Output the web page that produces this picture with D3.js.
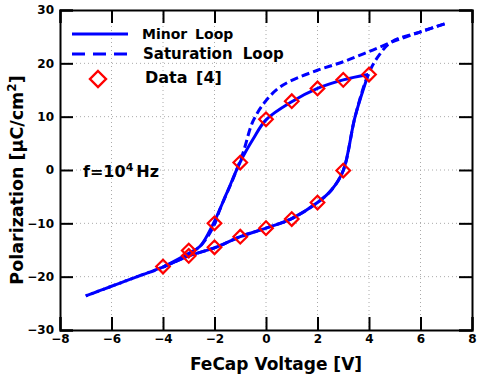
<!DOCTYPE html>
<meta charset="utf-8">
<html>
<head>
<style>
  body { margin: 0; background: #fff; }
  text { font-family: "DejaVu Sans", Verdana, sans-serif; font-weight: bold; fill: #000; }
  .grid line { stroke: #aaa; stroke-width: 1; stroke-dasharray: 1,3; }
</style>
<script src="https://cdn.jsdelivr.net/npm/d3@7"></script>
</head>
<body>
<div id="chart"></div>
<script>
// minor loop, rising branch (V, P)
var minorUpV = [-4, -3, -2, -1, 0, 1, 2, 2.55, 3, 3.46, 3.97];
var minorUpP = [-18.2, -16.1, -14.6, -12.5, -10.9, -9.1, -6.1, -3.7, -0.1, 10, 17.9];
// minor loop, falling branch
var minorDnV = [-4, -3, -2.56, -2.05, -1.53, -1, -0.5, 0, 1, 2, 3, 3.97];
var minorDnP = [-18.2, -15.6, -14.3, -10.1, -4.4, 1.5, 5.8, 9.4, 12.8, 15.3, 16.9, 17.9];
// saturation loop, rising branch
var satUpV = [-7, -6, -5, -4, -3, -2, -1, 0, 1, 2, 2.55, 3, 3.46, 3.97, 4.4, 4.9, 6, 7];
var satUpP = [-23.6, -21.8, -20, -18.2, -16.1, -14.6, -12.5, -10.9, -9.1, -6.1, -3.7, -0.1, 10, 17.9, 21.6, 24.1, 25.9, 27.5];
// saturation loop, falling branch
var satDnV = [-7, -6, -5, -4, -3, -2.5, -2, -1.8, -1.3, -0.9, -0.5, 0, 0.5, 1, 2, 3, 4, 5, 6, 7];
var satDnP = [-23.6, -21.8, -20, -18.2, -15.8, -14, -10.2, -7.5, -1.9, 3.1, 9.2, 13, 15.4, 16.8, 18.7, 20.3, 22.2, 24.2, 25.9, 27.5];
// measured data [4]
var dataV = [-4, -3, -3, -2, -1, 0, 1, 2, 3, 4, -2, -1, 0, 1, 2, 3];
var dataP = [-18.1, -15.1, -16.1, -10.0, 1.4, 9.5, 12.9, 15.3, 16.9, 17.9, -14.5, -12.5, -10.9, -9.2, -6.1, -0.1];

var xTicks = [-8, -6, -4, -2, 0, 2, 4, 6, 8];
var yTicks = [-30, -20, -10, 0, 10, 20, 30];

var W = 482, H = 375;
var margin = { top: 10, right: 10, bottom: 45, left: 60 },
    width = W - margin.left - margin.right,
    height = H - margin.top - margin.bottom;

var svg = d3.select("#chart").append("svg")
    .attr("width", W).attr("height", H);
var g = svg.append("g")
    .attr("transform", "translate(" + margin.left + "," + margin.top + ")");

var x = d3.scaleLinear().domain([-8, 8]).range([0, width]);
var y = d3.scaleLinear().domain([-30, 30]).range([height, 0]);

function fmt(d) { return d < 0 ? "\u2212" + Math.abs(d) : "" + d; }

// grid
var grid = g.append("g").attr("class", "grid");
grid.selectAll(".gx").data(xTicks.slice(1, -1)).enter().append("line")
    .attr("x1", function(d) { return x(d); }).attr("x2", function(d) { return x(d); })
    .attr("y1", 0).attr("y2", height);
grid.selectAll(".gy").data(yTicks.slice(1, -1)).enter().append("line")
    .attr("y1", function(d) { return y(d); }).attr("y2", function(d) { return y(d); })
    .attr("x1", 0).attr("x2", width);

// axes, ticks pointing inward
var tk = 13;
var ax = [
  g.append("g").attr("transform", "translate(0," + height + ")").call(d3.axisBottom(x).tickValues(xTicks).tickSize(-tk).tickPadding(4).tickFormat(fmt)),
  g.append("g").call(d3.axisTop(x).tickValues(xTicks).tickSize(-tk).tickFormat("")),
  g.append("g").call(d3.axisLeft(y).tickValues(yTicks).tickSize(-tk).tickPadding(6).tickFormat(fmt)),
  g.append("g").attr("transform", "translate(" + width + ",0)").call(d3.axisRight(y).tickValues(yTicks).tickSize(-tk).tickFormat(""))
];
ax.forEach(function(a) {
  a.select(".domain").attr("stroke", "#000").attr("stroke-width", 2);
  a.selectAll(".tick line").attr("stroke", "#000").attr("stroke-width", 2);
  a.selectAll("text").style("font-size", "12px").attr("fill", "#000");
});

// curves
var line = d3.line()
    .x(function(d) { return x(d[0]); })
    .y(function(d) { return y(d[1]); })
    .curve(d3.curveCatmullRom.alpha(0.5));
function pts(vs, ps) { return vs.map(function(v, i) { return [v, ps[i]]; }); }

var blue = "#0000ff";
[[satUpV, satUpP, 0], [satDnV, satDnP, 6]].forEach(function(b) {
  g.append("path").datum(pts(b[0], b[1]))
    .attr("d", line).attr("fill", "none").attr("stroke", blue)
    .attr("stroke-width", 3).attr("stroke-dasharray", "8,4")
    .attr("stroke-dashoffset", b[2]);
});
[[minorUpV, minorUpP], [minorDnV, minorDnP]].forEach(function(b) {
  g.append("path").datum(pts(b[0], b[1]))
    .attr("d", line).attr("fill", "none").attr("stroke", blue)
    .attr("stroke-width", 3);
});

// data diamonds
function diamond(cx, cy, s) {
  return "M" + cx + "," + (cy - s) + "L" + (cx + s) + "," + cy + "L" + cx + "," + (cy + s) + "L" + (cx - s) + "," + cy + "Z";
}
g.selectAll(".pt").data(pts(dataV, dataP)).enter().append("path")
    .attr("d", function(d) { return diamond(x(d[0]), y(d[1]), 6.8); })
    .attr("fill", "none").attr("stroke", "#ff0000").attr("stroke-width", 2.2);

// legend
var lg = svg.append("g");
lg.append("line").attr("x1", 72).attr("x2", 128).attr("y1", 34).attr("y2", 34)
  .attr("stroke", blue).attr("stroke-width", 3);
lg.append("line").attr("x1", 72).attr("x2", 128).attr("y1", 54).attr("y2", 54)
  .attr("stroke", blue).attr("stroke-width", 3).attr("stroke-dasharray", "13,8");
lg.append("path").attr("d", diamond(98, 79, 8))
  .attr("fill", "none").attr("stroke", "#ff0000").attr("stroke-width", 2.4);
var legTxt = ["Minor Loop", "Saturation Loop", "Data [4]"];
var legX = [142, 143, 145], legY = [39, 59, 83], legSz = [14, 15, 16], legWs = [3, 5, 3];
lg.selectAll(".lt").data(legTxt).enter().append("text")
  .attr("x", function(d, i) { return legX[i]; })
  .attr("y", function(d, i) { return legY[i]; })
  .style("font-size", function(d, i) { return legSz[i] + "px"; })
  .style("word-spacing", function(d, i) { return legWs[i] + "px"; })
  .text(function(d) { return d; });

// frequency note
var ft = svg.append("text").attr("x", 83).attr("y", 177).style("font-size", "16px");
ft.append("tspan").text("f=10");
ft.append("tspan").attr("dy", -6).style("font-size", "11px").text("4");
ft.append("tspan").attr("dy", 6).attr("dx", 3).text("Hz");

// axis titles
svg.append("text").attr("x", margin.left + width / 2 + 10).attr("y", 370)
  .attr("text-anchor", "middle").style("font-size", "17px").text("FeCap Voltage [V]");
var yt = svg.append("text").attr("transform", "translate(23,180) rotate(-90)")
  .attr("text-anchor", "middle").style("font-size", "17.5px");
yt.append("tspan").text("Polarization [\u03bcC/cm");
yt.append("tspan").attr("dy", -7).style("font-size", "12px").text("2");
yt.append("tspan").attr("dy", 7).text("]");
</script>
</body>
</html>
